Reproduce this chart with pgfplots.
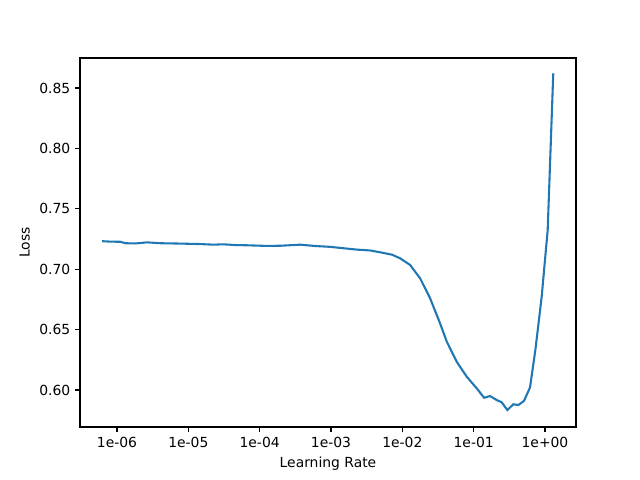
\documentclass[border=0pt]{standalone}
\usepackage{fontspec}
\setmainfont{DejaVu Sans}
\usepackage{pgfplots}
\pgfplotsset{compat=1.18}
\definecolor{mplblue}{HTML}{1F77B4}

\begin{document}
\begin{tikzpicture}
\begin{axis}[
  scale only axis, width=357.12pt, height=265.68pt,
  xmode=log, log basis x=10,
  xmin=3.03e-7, xmax=2.72, ymin=0.5694, ymax=0.8748,
  xtick={1e-6,1e-5,1e-4,1e-3,1e-2,1e-1,1},
  xticklabels={1e-06,1e-05,1e-04,1e-03,1e-02,1e-01,1e+00},
  ytick={0.60,0.65,0.70,0.75,0.80,0.85},
  yticklabel style={/pgf/number format/.cd, fixed, fixed zerofill, precision=2},
  /pgf/number format/assume math mode=true,
  tick align=outside, tick pos=left,
  major tick length=3.5pt, minor tick length=2pt,
  every tick/.style={black, line width=0.8pt},
  every minor tick/.style={black, line width=0.6pt},
  axis line style={line width=0.8pt},
  ticklabel style={font=\fontsize{10}{12}\selectfont},
  label style={font=\fontsize{10}{12}\selectfont},
  xlabel={Learning Rate}, ylabel={Loss},
  clip=false,
]
\path (rel axis cs:0,0) ++(-57.6pt,-38.16pt) coordinate (bl);
\path (rel axis cs:1,1) ++(46.08pt,41.76pt) coordinate (tr);
\path[use as bounding box] (bl) rectangle (tr);
\addplot[mplblue, line width=1.5pt, mark=none] coordinates {
(6.18e-7,0.7232) (8.09e-7,0.7228) (1.117e-6,0.7227) (1.312e-6,0.7215)
(1.811e-6,0.7213) (2.642e-6,0.7222) (4.055e-6,0.7215) (7.73e-6,0.7212)
(1.472e-5,0.7208) (2.239e-5,0.7203) (3.09e-5,0.7206) (4.55e-5,0.7200)
(6.64e-5,0.7198) (1.197e-4,0.7193) (1.945e-4,0.7194) (3.707e-4,0.7203)
(6.01e-4,0.7192) (9.75e-4,0.7185) (1.581e-3,0.7172) (2.328e-3,0.7162)
(3.54e-3,0.7155) (4.89e-3,0.7140) (7.19e-3,0.7120) (9.31e-3,0.7090)
(1.285e-2,0.7035) (1.774e-2,0.6925) (2.449e-2,0.6760) (3.38e-2,0.6552)
(4.20e-2,0.6400) (5.79e-2,0.6234) (8.00e-2,0.6110) (1.104e-1,0.6014)
(1.400e-1,0.5936) (1.698e-1,0.5950) (2.109e-1,0.5917) (2.477e-1,0.5898)
(2.965e-1,0.5834) (3.597e-1,0.5882) (4.227e-1,0.5876) (5.08e-1,0.5910)
(6.17e-1,0.6022) (7.36e-1,0.6340) (8.99e-1,0.6773) (1.091,0.7325)
(1.306,0.8621)
};
\end{axis}
\end{tikzpicture}
\end{document}
